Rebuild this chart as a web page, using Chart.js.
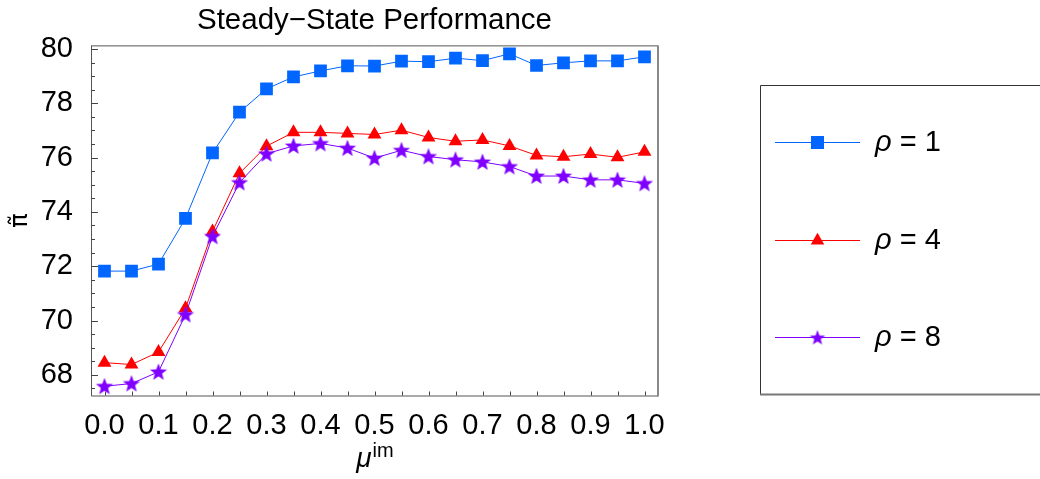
<!DOCTYPE html>
<html>
<head>
<meta charset="utf-8">
<script src="https://cdn.jsdelivr.net/npm/chart.js@4.4.0/dist/chart.umd.min.js"></script>
<style>
body{margin:0;background:#fff;}
</style>
</head>
<body>
<canvas id="myChart" width="1040" height="479"></canvas>
<script>
// data
var muIm = [0, 0.05, 0.1, 0.15, 0.2, 0.25, 0.3, 0.35, 0.4, 0.45, 0.5, 0.55, 0.6, 0.65, 0.7, 0.75, 0.8, 0.85, 0.9, 0.95, 1.0];
var rho1 = [71.82, 71.82, 72.08, 73.76, 76.17, 77.67, 78.53, 78.97, 79.19, 79.38, 79.37, 79.55, 79.53, 79.66, 79.57, 79.82, 79.39, 79.49, 79.56, 79.56, 79.71];
var rho4 = [68.45, 68.38, 68.84, 70.45, 73.28, 75.42, 76.42, 76.93, 76.93, 76.89, 76.85, 77.01, 76.74, 76.6, 76.65, 76.43, 76.08, 76.03, 76.13, 76.01, 76.21];
var rho8 = [67.58, 67.68, 68.11, 70.22, 73.1, 75.08, 76.14, 76.43, 76.52, 76.35, 75.98, 76.27, 76.04, 75.92, 75.84, 75.67, 75.32, 75.32, 75.18, 75.18, 75.05];
var rhoLabels = ['1', '4', '8'];
var xTicks = [0, 0.1, 0.2, 0.3, 0.4, 0.5, 0.6, 0.7, 0.8, 0.9, 1.0];
var yTicks = [68, 70, 72, 74, 76, 78, 80];

var blue = '#0066ff';
var red = '#ff0000';
var purple = '#7f00ff';
var font = "'Liberation Sans', Arial, sans-serif";

function pts(ys){
    var out = [];
    for (var i = 0; i < muIm.length; i++) out.push({x: muIm[i], y: ys[i]});
    return out;
}

// filled five point star, used as point style
function makeStar(color, r){
    var c = document.createElement('canvas');
    var s = Math.ceil(r * 2 + 2);
    c.width = s; c.height = s;
    var g = c.getContext('2d');
    g.fillStyle = color;
    g.beginPath();
    for (var k = 0; k < 10; k++){
        var rr = (k % 2 == 0) ? r : r * 0.42;
        var a = -Math.PI / 2 + k * Math.PI / 5;
        var px = s / 2 + rr * Math.cos(a), py = s / 2 + rr * Math.sin(a) + 0.6;
        if (k == 0) g.moveTo(px, py); else g.lineTo(px, py);
    }
    g.closePath();
    g.fill();
    return c;
}
var starImg = makeStar(purple, 9);
var starSmall = makeStar(purple, 8);

// frame + inward ticks like mathematica
var frameTicks = {
    id: 'frameTicks',
    beforeDatasetsDraw: function(chart){
        var ctx = chart.ctx, a = chart.chartArea;
        var xs = chart.scales.x, ys = chart.scales.y;
        ctx.save();
        ctx.strokeStyle = '#555';
        ctx.lineWidth = 1;
        ctx.beginPath();
        ctx.moveTo(a.left + 0.5, a.top + 0.5);
        ctx.lineTo(a.right, a.top + 0.5);
        ctx.moveTo(a.left + 0.5, a.top);
        ctx.lineTo(a.left + 0.5, a.bottom + 0.5);
        ctx.lineTo(a.right, a.bottom + 0.5);
        ctx.stroke();
        ctx.strokeStyle = '#888';
        ctx.lineWidth = 2;
        ctx.beginPath();
        ctx.moveTo(a.right, a.top);
        ctx.lineTo(a.right, a.bottom + 1);
        ctx.stroke();
        ctx.strokeStyle = '#444';
        ctx.lineWidth = 1;
        ctx.beginPath();
        for (var v = 0; v <= 20; v++){
            var px = Math.round(xs.getPixelForValue(v * 0.05)) + 0.5;
            ctx.moveTo(px, a.bottom);
            ctx.lineTo(px, a.bottom - 4);
        }
        for (var w = Math.ceil(ys.min * 2); w <= Math.floor(ys.max * 2); w++){
            var val = w / 2;
            var py = Math.round(ys.getPixelForValue(val)) + 0.5;
            var len = (val % 2 == 0) ? 7 : 4;
            ctx.moveTo(a.left, py);
            ctx.lineTo(a.left + len, py);
        }
        ctx.stroke();
        ctx.restore();
    }
};

// x axis title with superscript, and the boxed legend on the right
var extras = {
    id: 'extras',
    afterDraw: function(chart){
        var ctx = chart.ctx, a = chart.chartArea;
        ctx.save();
        ctx.fillStyle = '#000';
        ctx.textBaseline = 'alphabetic';
        var f1 = 'italic 28px ' + font, f2 = '20px ' + font;
        ctx.font = f1; var w1 = ctx.measureText('\u03bc').width;
        ctx.font = f2; var w2 = ctx.measureText('im').width;
        var x0 = (a.left + a.right) / 2 - (w1 + w2) / 2;
        ctx.font = f1; ctx.fillText('\u03bc', x0, 467);
        ctx.font = f2; ctx.fillText('im', x0 + w1 + 1, 457);

        // legend box
        ctx.strokeStyle = '#333';
        ctx.lineWidth = 1;
        ctx.beginPath();
        ctx.moveTo(1045, 85.5);
        ctx.lineTo(760.5, 85.5);
        ctx.lineTo(760.5, 394);
        ctx.stroke();
        ctx.strokeStyle = '#777';
        ctx.lineWidth = 2;
        ctx.beginPath();
        ctx.moveTo(760, 394.5);
        ctx.lineTo(1045, 394.5);
        ctx.stroke();

        var rows = [142, 240, 337];
        var styles = [
            {c: blue, ps: 'rect', r: 9.2},
            {c: red, ps: 'triangle', r: 7.8},
            {c: purple, ps: starSmall, r: 8}
        ];
        for (var i = 0; i < 3; i++){
            var y = rows[i], st = styles[i];
            ctx.strokeStyle = st.c;
            ctx.lineWidth = 1;
            ctx.beginPath();
            ctx.moveTo(775, y + 0.5);
            ctx.lineTo(860, y + 0.5);
            ctx.stroke();
            ctx.fillStyle = st.c;
            Chart.helpers.drawPoint(ctx, {pointStyle: st.ps, radius: st.r, rotation: 0, borderWidth: 0}, 817.5, y + 0.5);
            ctx.fillStyle = '#000';
            ctx.textBaseline = 'middle';
            ctx.font = 'italic 29px ' + font;
            ctx.fillText('\u03c1', 875, y + 1);
            var rw = ctx.measureText('\u03c1').width;
            ctx.font = '29px ' + font;
            ctx.fillText(' = ' + rhoLabels[i], 875 + rw, y + 1);
        }
        ctx.restore();
    }
};

var ctx = document.getElementById('myChart').getContext('2d');
var myChart = new Chart(ctx, {
    type: 'line',
    data: {
        datasets: [
            {
                label: '\u03c1 = ' + rhoLabels[0],
                data: pts(rho1),
                borderColor: blue,
                backgroundColor: blue,
                borderWidth: 1,
                pointStyle: 'rect',
                pointRadius: 9,
                pointBorderWidth: 0,
                order: 3
            },
            {
                label: '\u03c1 = ' + rhoLabels[1],
                data: pts(rho4),
                borderColor: red,
                backgroundColor: red,
                borderWidth: 1,
                pointStyle: 'triangle',
                pointRadius: 8,
                pointBorderWidth: 0,
                order: 2
            },
            {
                label: '\u03c1 = ' + rhoLabels[2],
                data: pts(rho8),
                borderColor: purple,
                backgroundColor: purple,
                borderWidth: 1,
                pointStyle: starImg,
                pointRadius: 9,
                pointBorderWidth: 0,
                order: 1
            }
        ]
    },
    options: {
        responsive: false,
        animation: false,
        devicePixelRatio: 1,
        layout: {padding: {left: 0, right: 382, top: 0, bottom: 0}},
        plugins: {
            legend: {display: false},
            tooltip: {enabled: false},
            title: {
                display: true,
                fullSize: false,
                text: 'Steady\u2212State Performance',
                color: '#000',
                font: {family: font, size: 29.5, weight: 'normal', lineHeight: 1.2},
                padding: {top: 3, bottom: 7},
            }
        },
        scales: {
            x: {
                type: 'linear',
                min: -0.025,
                max: 1.025,
                grid: {display: false},
                border: {display: false},
                afterBuildTicks: function(s){ s.ticks = xTicks.map(function(v){ return {value: v}; }); },
                afterFit: function(s){ s.height = 83.5; },
                ticks: {
                    color: '#000',
                    padding: 5,
                    maxRotation: 0,
                    autoSkip: false,
                    font: {family: font, size: 29},
                    callback: function(v){ return v.toFixed(1); }
                }
            },
            y: {
                min: 67.24,
                max: 80.13,
                grid: {display: false},
                border: {display: false},
                afterBuildTicks: function(s){ s.ticks = yTicks.map(function(v){ return {value: v}; }); },
                afterFit: function(s){ s.width = 91; },
                ticks: {
                    color: '#000',
                    padding: 10,
                    font: {family: font, size: 29},
                    callback: function(v){ return String(v); }
                },
                title: {
                    display: true,
                    text: '\u03c0\u0303',
                    color: '#000',
                    font: {family: "'DejaVu Sans', sans-serif", size: 24},
                    padding: {top: 6, bottom: 0}
                }
            }
        }
    },
    plugins: [frameTicks, extras]
});
</script>
</body>
</html>
